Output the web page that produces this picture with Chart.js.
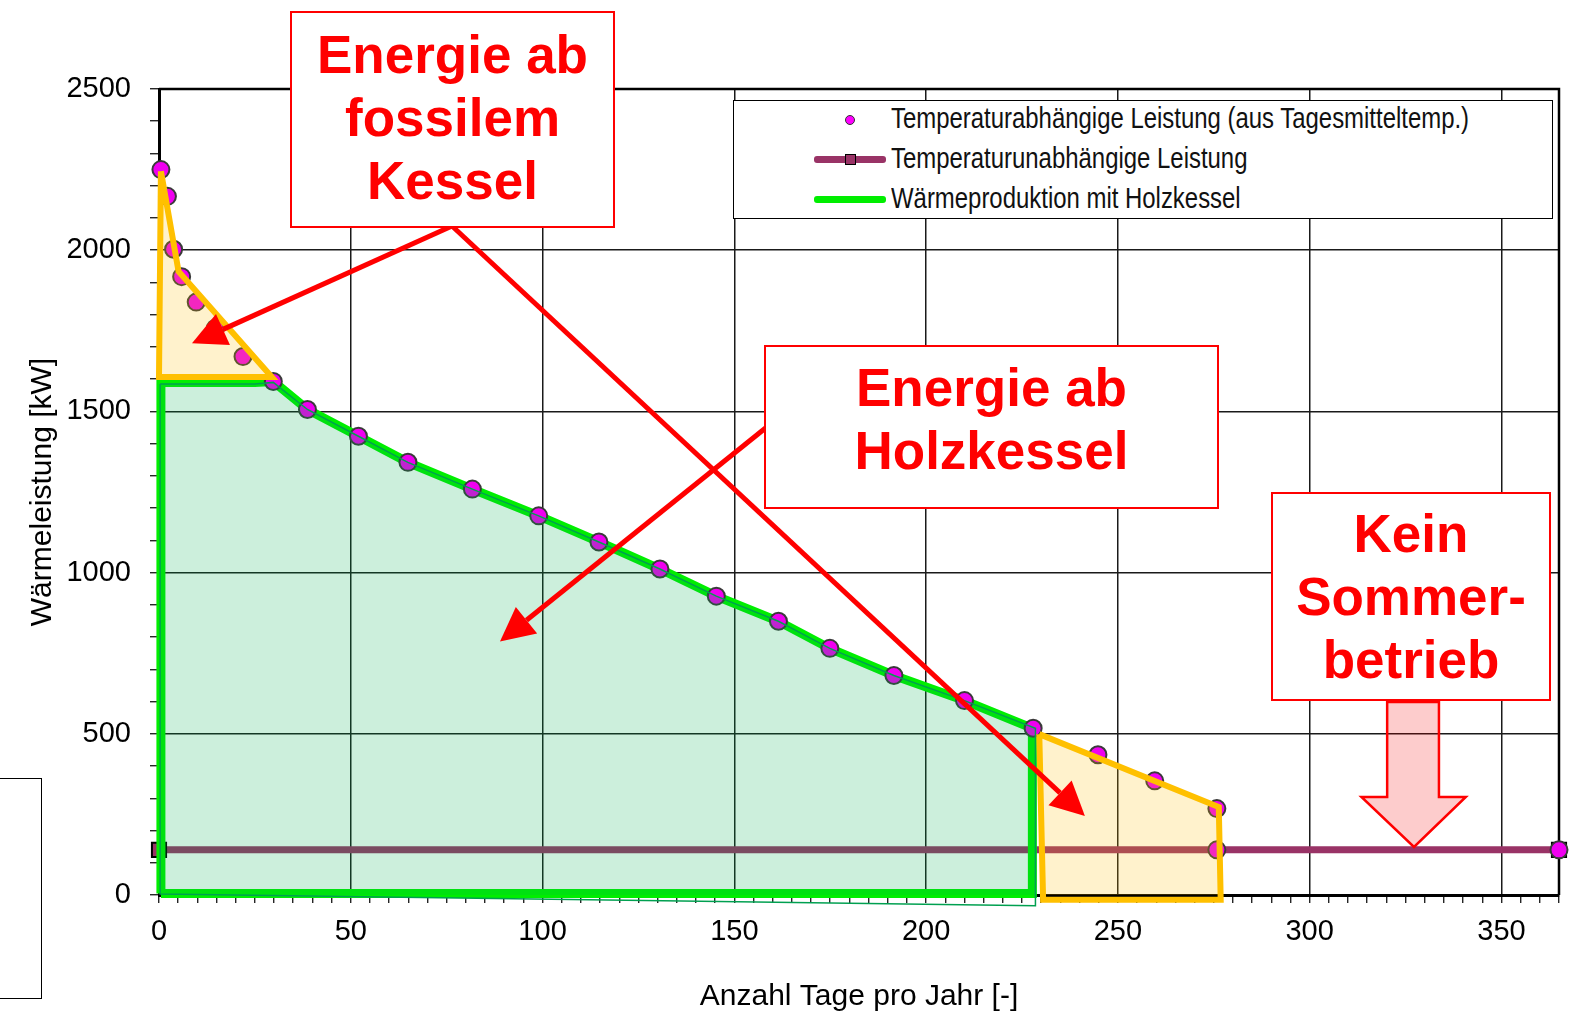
<!DOCTYPE html>
<html>
<head>
<meta charset="utf-8">
<script src="https://cdn.jsdelivr.net/npm/chart.js@4.4.0/dist/chart.umd.min.js"></script>
<style>
  body { margin: 0; background: #fff; }
  #wrap { position: relative; width: 1575px; height: 1017px; overflow: hidden; font-family: "Liberation Sans", Arial, sans-serif; }
  #chart { position: absolute; left: 0; top: 0; }
  .note { position: absolute; background: #fff; border: 2px solid #ff0000; box-sizing: border-box; }
  .note div { position: absolute; left: 0; right: 0; text-align: center; color: #ff0000; font-weight: bold; font-size: 53px; line-height: 63px; white-space: nowrap; }
  #legendBox { position: absolute; left: 733px; top: 100px; width: 820px; height: 119px; box-sizing: border-box; border: 1.5px solid #000; background: #fff; }
  .lgText { position: absolute; left: 891px; font-size: 29px; line-height: 34px; color: #111; white-space: nowrap; transform: scaleX(0.825); transform-origin: left center; }
  .lgLine { position: absolute; left: 814px; width: 72px; height: 7px; border-radius: 3px; }
  #sideBox { position: absolute; left: -3px; top: 778px; width: 45px; height: 221px; box-sizing: border-box; border: 1.5px solid #000; }
</style>
</head>
<body>
<div id="wrap">
  <canvas id="chart" width="1575" height="1017"></canvas>

  <div id="legendBox"></div>
  <div style="position:absolute; left:845px; top:115px; width:8px; height:8px; border-radius:50%; background:#ff00ff; border:1px solid #333;"></div>
  <div class="lgText" style="top:101px;">Temperaturabhängige Leistung (aus Tagesmitteltemp.)</div>
  <div class="lgLine" style="top:156px; background:#993366;"></div>
  <div style="position:absolute; left:845px; top:154px; width:9px; height:9px; background:#993366; border:1.5px solid #000;"></div>
  <div class="lgText" style="top:141px;">Temperaturunabhängige Leistung</div>
  <div class="lgLine" style="top:196px; background:#00ee00;"></div>
  <div class="lgText" style="top:181px;">Wärmeproduktion mit Holzkessel</div>

  <div class="note" style="left:290px; top:11px; width:325px; height:217px;">
    <div style="top:10px;">Energie ab<br>fossilem<br>Kessel</div>
  </div>
  <div class="note" style="left:764px; top:345px; width:455px; height:164px;">
    <div style="top:9px;">Energie ab<br>Holzkessel</div>
  </div>
  <div class="note" style="left:1271px; top:492px; width:280px; height:209px;">
    <div style="top:8px;">Kein<br>Sommer-<br>betrieb</div>
  </div>

  <div id="sideBox"></div>
</div>

<script>
// ---------- data ----------
const loadDays = [0.5, 2.2, 3.8, 5.9, 9.7, 14.7, 21.9, 29.8, 38.7, 52.0, 64.9, 81.7, 99.0, 114.7, 130.6,
                  145.3, 161.5, 174.9, 191.6, 210.0, 227.9, 244.8, 259.6, 275.8, 275.8, 365];
const loadKW = [2250, 2167, 2003, 1918, 1839, 1758, 1670, 1593, 1506, 1423, 1342, 1259, 1176, 1095, 1011,
                927, 849, 765, 681, 603, 517, 435, 354, 268, 140, 140];

const baseDays = [0, 365];
const baseKW = [140, 140];

// thick green outline (wood boiler production)
const woodDays = [0.5, 0.5, 25, 29.8, 38.7, 52.0, 64.9, 81.7, 99.0, 114.7, 130.6, 145.3, 161.5, 174.9,
                  191.6, 210.0, 227.7, 227.7, 0.5];
const woodKW = [5, 1590, 1590, 1593, 1506, 1423, 1342, 1259, 1176, 1095, 1011, 927, 849, 765,
                681, 603, 517, 5, 5];

// shaded wood area with thin outline
const woodAreaDays = [0.3, 25, 29.8, 38.7, 52.0, 64.9, 81.7, 99.0, 114.7, 130.6, 145.3, 161.5, 174.9,
                      191.6, 210.0, 228.5, 228.5, 0.3, 0.3];
const woodAreaKW = [1585, 1585, 1590, 1506, 1423, 1342, 1259, 1176, 1095, 1011, 927, 849, 765,
                    681, 603, 517, -33, 3, 1585];

// fossil boiler areas
const fossilTopDays = [0.5, 5.1, 29.4, 0, 0.5];
const fossilTopKW = [2245, 1934, 1607, 1607, 2245];
const fossilEndDays = [229.5, 276.3, 276.8, 230.5, 229.5];
const fossilEndKW = [499, 273, -15, -15, 499];

const xTickLabels = [0, 50, 100, 150, 200, 250, 300, 350];
const yTickLabels = [0, 500, 1000, 1500, 2000, 2500];

// annotation arrows [fromDay, fromKW, toDay, toKW]
const redArrows = [
  [76.4, 2075, 8.6, 1711],
  [76.4, 2075, 241.4, 245],
  [158.3, 1450, 88.9, 786]
];
// summer arrow: shaft left/right, top, head level, head left/right, tip
const summerArrow = { shaftL: 320.2, shaftR: 333.7, top: 599, headY: 304, headL: 313.5, headR: 340.7, tipX: 327.2, tipY: 149 };

const pts = (xs, ys) => xs.map((x, i) => ({ x: x, y: ys[i] }));

function drawArrow(ctx, x1, y1, x2, y2, head, half) {
  const a = Math.atan2(y2 - y1, x2 - x1);
  const bx = x2 - head * Math.cos(a), by = y2 - head * Math.sin(a);
  ctx.beginPath();
  ctx.moveTo(x1, y1);
  ctx.lineTo(bx, by);
  ctx.stroke();
  ctx.beginPath();
  ctx.moveTo(x2, y2);
  ctx.lineTo(bx + half * Math.sin(a), by - half * Math.cos(a));
  ctx.lineTo(bx - half * Math.sin(a), by + half * Math.cos(a));
  ctx.closePath();
  ctx.fill();
}

const decor = {
  id: 'decor',
  beforeDatasetsDraw(chart) {
    const { ctx, chartArea: a } = chart;
    ctx.save();
    ctx.strokeStyle = '#000';
    ctx.lineWidth = 2.5;
    ctx.beginPath();
    ctx.moveTo(a.left, a.top);
    ctx.lineTo(a.right, a.top);
    ctx.lineTo(a.right, a.bottom);
    ctx.stroke();
    ctx.restore();
  },
  afterDraw(chart) {
    const { ctx } = chart;
    const xs = chart.scales.x, ys = chart.scales.y;
    ctx.save();
    // summer arrow
    const s = summerArrow;
    ctx.beginPath();
    ctx.moveTo(xs.getPixelForValue(s.shaftL), ys.getPixelForValue(s.top));
    ctx.lineTo(xs.getPixelForValue(s.shaftR), ys.getPixelForValue(s.top));
    ctx.lineTo(xs.getPixelForValue(s.shaftR), ys.getPixelForValue(s.headY));
    ctx.lineTo(xs.getPixelForValue(s.headR), ys.getPixelForValue(s.headY));
    ctx.lineTo(xs.getPixelForValue(s.tipX), ys.getPixelForValue(s.tipY));
    ctx.lineTo(xs.getPixelForValue(s.headL), ys.getPixelForValue(s.headY));
    ctx.lineTo(xs.getPixelForValue(s.shaftL), ys.getPixelForValue(s.headY));
    ctx.closePath();
    ctx.fillStyle = 'rgba(245,0,0,0.2)';
    ctx.fill();
    ctx.strokeStyle = '#ff0000';
    ctx.lineWidth = 2.5;
    ctx.stroke();

    // red pointer arrows
    ctx.strokeStyle = '#ff0000';
    ctx.fillStyle = '#ff0000';
    ctx.lineWidth = 5;
    redArrows.forEach(r => {
      drawArrow(ctx,
        xs.getPixelForValue(r[0]), ys.getPixelForValue(r[1]),
        xs.getPixelForValue(r[2]), ys.getPixelForValue(r[3]), 34, 17);
    });
    ctx.restore();
  }
};

Chart.defaults.font.family = '"Liberation Sans", Arial, sans-serif';

new Chart(document.getElementById('chart'), {
  type: 'line',
  data: {
    datasets: [
      {
        label: 'fossil top',
        data: pts(fossilTopDays, fossilTopKW),
        borderColor: '#ffc000', borderWidth: 6, borderJoinStyle: 'miter',
        backgroundColor: 'rgba(255,192,0,0.2)', fill: 'shape',
        pointRadius: 0, clip: false
      },
      {
        label: 'fossil end',
        data: pts(fossilEndDays, fossilEndKW),
        borderColor: '#ffc000', borderWidth: 6, borderJoinStyle: 'miter',
        backgroundColor: 'rgba(255,192,0,0.2)', fill: 'shape',
        pointRadius: 0, clip: false
      },
      {
        label: 'wood area',
        data: pts(woodAreaDays, woodAreaKW),
        borderColor: '#00a050', borderWidth: 1.5,
        backgroundColor: 'rgba(0,176,80,0.2)', fill: 'shape',
        pointRadius: 0, clip: false
      },
      {
        label: 'Temperaturabhängige Leistung (aus Tagesmitteltemp.)',
        data: pts(loadDays, loadKW),
        showLine: false,
        pointRadius: 8.5, pointBorderWidth: 2,
        pointBackgroundColor: '#f000f0', pointBorderColor: '#3a3a3a',
        clip: false
      },
      {
        label: 'Wärmeproduktion mit Holzkessel',
        data: pts(woodDays, woodKW),
        borderColor: '#00ee00', borderWidth: 9, borderJoinStyle: 'miter',
        fill: false, pointRadius: 0, clip: false
      },
      {
        label: 'Temperaturunabhängige Leistung',
        data: pts(baseDays, baseKW),
        borderColor: '#993366', borderWidth: 7,
        pointStyle: 'rect', pointRadius: 10, pointBorderWidth: 2,
        pointBackgroundColor: '#993366', pointBorderColor: '#000',
        fill: false, clip: false
      }
    ]
  },
  options: {
    responsive: false,
    animation: false,
    layout: { padding: { left: 0, right: 16, top: 89, bottom: 0 } },
    plugins: { legend: { display: false }, tooltip: { enabled: false } },
    scales: {
      x: {
        type: 'linear', min: 0, max: 365,
        afterFit: s => { s.height = 122; },
        border: { color: '#000', width: 3 },
        grid: {
          color: c => (c.tick && xTickLabels.includes(c.tick.value)) ? '#1a1a1a' : 'rgba(0,0,0,0)',
          lineWidth: 1.5, tickColor: '#000', tickLength: 8, tickWidth: 1.2
        },
        ticks: {
          stepSize: 5, autoSkip: false, maxRotation: 0, minRotation: 0, maxTicksLimit: 200,
          color: '#000', font: { size: 29 }, padding: 12,
          callback: v => xTickLabels.includes(v) ? String(v) : ''
        },
        title: { display: true, text: 'Anzahl Tage pro Jahr [-]', color: '#000', font: { size: 30 }, padding: { top: 0, bottom: 2 } }
      },
      y: {
        type: 'linear', min: 0, max: 2500,
        afterFit: s => { s.width = 159; },
        border: { color: '#000', width: 3 },
        grid: {
          color: c => (c.tick && yTickLabels.includes(c.tick.value)) ? '#1a1a1a' : 'rgba(0,0,0,0)',
          lineWidth: 1.5, tickColor: '#000', tickLength: 9, tickWidth: 1.2
        },
        ticks: {
          stepSize: 100, autoSkip: false, maxTicksLimit: 200,
          color: '#000', font: { size: 29 }, padding: 19,
          callback: v => yTickLabels.includes(v) ? String(v) : ''
        },
        title: { display: true, text: 'Wärmeleistung [kW]', color: '#000', font: { size: 30 }, padding: { top: 25, bottom: 0 } }
      }
    }
  },
  plugins: [decor]
});
</script>
</body>
</html>
